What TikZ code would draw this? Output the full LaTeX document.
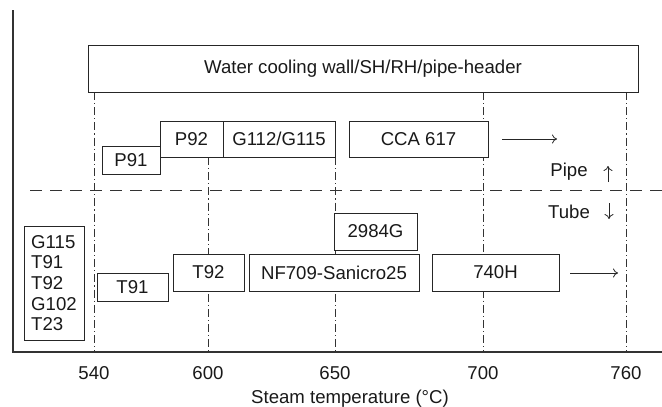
\documentclass[tikz,border=0pt]{standalone}
\usepackage{fontspec}
\setmainfont{Liberation Sans}
\usetikzlibrary{arrows.meta}
\begin{document}
\begin{tikzpicture}[x=1pt,y=-1pt,
  every node/.style={font=\fontsize{18.6}{20.7}\selectfont, text=black!90},
  mbox/.style={draw=black!85, line width=0.9pt, fill=white, inner sep=0pt},
  ddot/.style={draw=black!80, line width=0.8pt, dash pattern=on 8pt off 3pt on 1.2pt off 3pt},
  sep/.style={draw=black!80, line width=0.8pt, dash pattern=on 12pt off 8pt},
  axis/.style={draw=black!80, line width=1.1pt},
  arr/.style={draw=black!85, line width=0.8pt, -{To[length=5pt,width=9pt]}}
]
\useasboundingbox (0,0) rectangle (662,407);
% axes
\coordinate (ytop) at (13,10);
\coordinate (origin) at (13,352);
\coordinate (xend) at (662,352);
\draw[axis] (ytop) -- (origin) -- (xend);
% separator
\coordinate (sepL) at (30,190);
\coordinate (sepR) at (662,190);
\draw[sep] (sepL) -- (sepR);
% guide lines
\coordinate (g540a) at (94,92); \coordinate (g540b) at (94,352);
\coordinate (g600a) at (208,157); \coordinate (g600b) at (208,352);
\coordinate (g650a) at (335,157); \coordinate (g650b) at (335,352);
\coordinate (g700a) at (483,92); \coordinate (g700b) at (483,352);
\coordinate (g760a) at (626,92); \coordinate (g760b) at (626,352);
\draw[ddot] (g540a) -- (g540b);
\draw[ddot] (g600a) -- (g600b);
\draw[ddot] (g650a) -- (g650b);
\draw[ddot] (g700a) -- (g700b);
\draw[ddot] (g760a) -- (g760b);
% boxes
\node[mbox, minimum width=550pt, minimum height=47pt] (top) at (363,68.5) {Water cooling wall/SH/RH/pipe-header};
\node[mbox, minimum width=58pt, minimum height=28pt] (p91) at (131,160) {P91};
\node[mbox, minimum width=63pt, minimum height=36pt] (p92) at (191.5,139) {P92};
\node[mbox, minimum width=112pt, minimum height=36pt] (g112) at (279,139) {G112/G115};
\node[mbox, minimum width=139pt, minimum height=36pt] (cca) at (418.5,139) {CCA 617};
\node[mbox, minimum width=83pt, minimum height=37pt] (g2984) at (375.5,231.5) {2984G};
\node[mbox, minimum width=170pt, minimum height=37pt] (nf) at (334,272.5) {NF709-Sanicro25};
\node[mbox, minimum width=71pt, minimum height=37pt] (t92) at (208.5,272.5) {T92};
\node[mbox, minimum width=71pt, minimum height=28pt] (t91) at (132.5,287) {T91};
\node[mbox, minimum width=127pt, minimum height=37pt] (h740) at (495.5,272.5) {740H};
\node[mbox, minimum width=60pt, minimum height=114pt, align=left] (left) at (54,283) {G115\\T91\\T92\\G102\\T23};
% arrows
\coordinate (a1s) at (502,139); \coordinate (a1e) at (557,139);
\draw[arr] (a1s) -- (a1e);
\coordinate (a2s) at (570,273); \coordinate (a2e) at (618,273);
\draw[arr] (a2s) -- (a2e);
\node (pipe) at (569,172) {Pipe};
\node (tube) at (569,212) {Tube};
\coordinate (upS) at (608,182); \coordinate (upE) at (608,166);
\draw[arr] (upS) -- (upE);
\coordinate (dnS) at (609,203); \coordinate (dnE) at (609,219);
\draw[arr] (dnS) -- (dnE);
% tick labels
\node (l540) at (94,373) {540};
\node (l600) at (208,373) {600};
\node (l650) at (335,373) {650};
\node (l700) at (483,373) {700};
\node (l760) at (626,373) {760};
\node (xlab) at (350,399) {Steam temperature (°C)};
\end{tikzpicture}
\end{document}
